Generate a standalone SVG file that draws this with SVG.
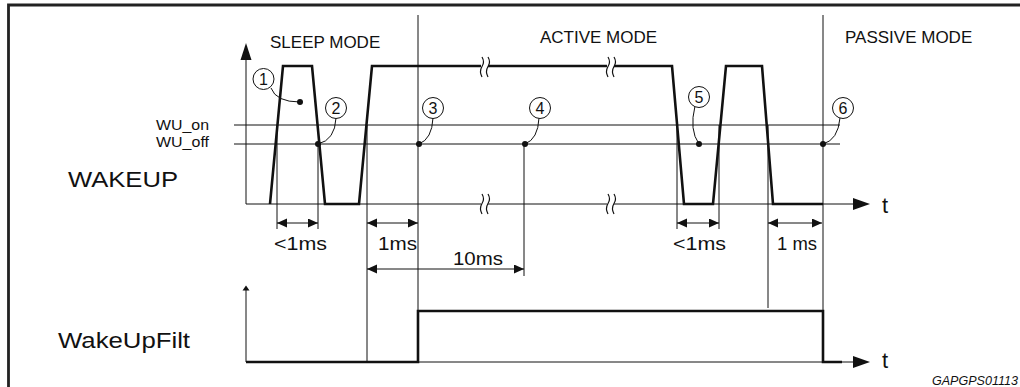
<svg xmlns="http://www.w3.org/2000/svg" width="1020" height="387" viewBox="0 0 1020 387">
<style>
text{font-family:"Liberation Sans",Arial,sans-serif;fill:#111}
.thin{stroke:#111;stroke-width:1;fill:none}
.thick{stroke:#111;stroke-width:2.6;fill:none;stroke-linejoin:miter}
.frame{stroke:#222;stroke-width:2.8;fill:none}
.dim{stroke:#111;stroke-width:1;fill:none;marker-start:url(#ah);marker-end:url(#ah)}
.mode{font-size:17px}
.dimt{font-size:18px}
.num{font-size:16px;text-anchor:middle}
.big{font-size:22px}
.brk{stroke:#111;stroke-width:1.2;fill:none}
.gap{stroke:#fff;stroke-width:5;fill:none}
.dot{fill:#111}
.circ{stroke:#111;stroke-width:1;fill:#fff}
</style>
<defs>
<marker id="ah" markerUnits="userSpaceOnUse" markerWidth="11" markerHeight="10" refX="10" refY="4.5" orient="auto-start-reverse">
<path d="M0,0 L10,4.5 L0,9 z" fill="#111"/>
</marker>
</defs>
<rect width="1020" height="387" fill="#fff"/>
<g id="frame">
<path class="frame" d="M1020,5 L8.5,5 L8.5,387"/>
</g>
<g id="labels">
<text class="mode" x="270" y="48">SLEEP MODE</text>
<text class="mode" x="540" y="43">ACTIVE MODE</text>
<text class="mode" x="845" y="43">PASSIVE MODE</text>
<text x="156" y="130" font-size="15" textLength="53" lengthAdjust="spacingAndGlyphs">WU_on</text>
<text x="156" y="147" font-size="15" textLength="53" lengthAdjust="spacingAndGlyphs">WU_off</text>
<text class="big" x="68" y="187" textLength="110" lengthAdjust="spacingAndGlyphs">WAKEUP</text>
<text class="big" x="58" y="348" textLength="132" lengthAdjust="spacingAndGlyphs">WakeUpFilt</text>
<text x="882" y="213" font-size="22">t</text>
<text x="882" y="368" font-size="22">t</text>
<text x="932" y="385" font-size="12" font-style="italic" textLength="86" lengthAdjust="spacingAndGlyphs">GAPGPS01113</text>
</g>
<g id="axes">
<line class="thin" x1="246" y1="58" x2="246" y2="204"/>
<polygon points="246,43 240.5,60 251.5,60" fill="#111"/>
<line class="thin" x1="246" y1="204" x2="855" y2="204"/>
<polygon points="870,204 853,198 853,210" fill="#111"/>
<line class="thin" x1="246" y1="289" x2="246" y2="362"/>
<polygon points="246,285.5 242.5,290.5 249.5,290.5" fill="#111"/>
<line class="thin" x1="246" y1="362" x2="855" y2="362"/>
<polygon points="870,362 853,356 853,368" fill="#111"/>
<line class="thin" x1="234" y1="125" x2="840" y2="125"/>
<line class="thin" x1="234" y1="144" x2="840" y2="144"/>
</g>
<g id="connectors">
<line class="thin" x1="418" y1="15" x2="418" y2="311"/>
<line class="thin" x1="823" y1="15" x2="823" y2="311"/>
<line class="thin" x1="277" y1="125" x2="277" y2="229"/>
<line class="thin" x1="318" y1="144" x2="318" y2="229"/>
<line class="thin" x1="367" y1="125" x2="367" y2="362"/>
<line class="thin" x1="524" y1="144" x2="524" y2="276"/>
<line class="thin" x1="677" y1="125" x2="677" y2="229"/>
<line class="thin" x1="719" y1="125" x2="719" y2="229"/>
<line class="thin" x1="768" y1="125" x2="768" y2="308"/>
<line class="dim" x1="277" y1="223" x2="318" y2="223"/>
<line class="dim" x1="367" y1="223" x2="418" y2="223"/>
<line class="dim" x1="367" y1="269" x2="524" y2="269"/>
<line class="dim" x1="677" y1="223" x2="719" y2="223"/>
<line class="dim" x1="768" y1="223" x2="822" y2="223"/>
</g>
<g id="dimtext">
<text class="dimt" x="274" y="250" textLength="53" lengthAdjust="spacingAndGlyphs">&lt;1ms</text>
<text class="dimt" x="378" y="250" textLength="39" lengthAdjust="spacingAndGlyphs">1ms</text>
<text class="dimt" x="453" y="265" textLength="50" lengthAdjust="spacingAndGlyphs">10ms</text>
<text class="dimt" x="673" y="250" textLength="53" lengthAdjust="spacingAndGlyphs">&lt;1ms</text>
<text class="dimt" x="777" y="250" textLength="40" lengthAdjust="spacingAndGlyphs">1 ms</text>
</g>
<g id="wakeup-signal">
<path class="thick" d="M270,204 L283,66 L312,66 L325,204 L359,204 L372,66 L672,66 L684,204 L713,204 L726,66 L762,66 L773,204 L823,204"/>
</g>
<g id="breaks">
<line class="gap" x1="481" y1="66" x2="488" y2="66"/>
<line class="gap" x1="607" y1="66" x2="614" y2="66"/>
<line class="gap" x1="481" y1="204" x2="488" y2="204"/>
<line class="gap" x1="607" y1="204" x2="614" y2="204"/>
<path class="brk" d="M482,57 q3,5 0,9.5 q-3,5 0,10.5 M488,57 q3,5 0,9.5 q-3,5 0,10.5"/>
<path class="brk" d="M608,57 q3,5 0,9.5 q-3,5 0,10.5 M614,57 q3,5 0,9.5 q-3,5 0,10.5"/>
<path class="brk" d="M482,194 q3,5 0,9.5 q-3,5 0,10.5 M488,194 q3,5 0,9.5 q-3,5 0,10.5"/>
<path class="brk" d="M608,194 q3,5 0,9.5 q-3,5 0,10.5 M614,194 q3,5 0,9.5 q-3,5 0,10.5"/>
</g>
<g id="wakeupfilt-signal">
<path class="thick" d="M246,362 L418,362 L418,311 L823,311 L823,362 L842,362"/>
</g>
<g id="marker1">
<path class="thin" d="M271,88 Q276,102 300,102"/>
<circle class="dot" cx="300" cy="102" r="3"/>
<circle class="circ" cx="263.5" cy="79" r="10.5"/>
<text class="num" x="263.5" y="85">1</text>
</g>
<g id="marker2">
<path class="thin" d="M336,118 Q335,140 318,144"/>
<circle class="dot" cx="318" cy="144" r="3"/>
<circle class="circ" cx="336" cy="108" r="10.5"/>
<text class="num" x="336" y="114">2</text>
</g>
<g id="marker3">
<path class="thin" d="M433,118 Q432,139 419,144"/>
<circle class="dot" cx="419" cy="144" r="3"/>
<circle class="circ" cx="433" cy="108" r="10.5"/>
<text class="num" x="433" y="114">3</text>
</g>
<g id="marker4">
<path class="thin" d="M539,118 Q538,139 525,144"/>
<circle class="dot" cx="525" cy="144" r="3"/>
<circle class="circ" cx="540" cy="108" r="10.5"/>
<text class="num" x="540" y="114">4</text>
</g>
<g id="marker5">
<path class="thin" d="M695,106 Q689,130 699,144"/>
<circle class="dot" cx="699" cy="144" r="3"/>
<circle class="circ" cx="699" cy="97" r="10.5"/>
<text class="num" x="699" y="103">5</text>
</g>
<g id="marker6">
<path class="thin" d="M840,118 Q838,140 823,144"/>
<circle class="dot" cx="823" cy="144" r="3"/>
<circle class="circ" cx="843" cy="108" r="10.5"/>
<text class="num" x="843" y="114">6</text>
</g>
</svg>
